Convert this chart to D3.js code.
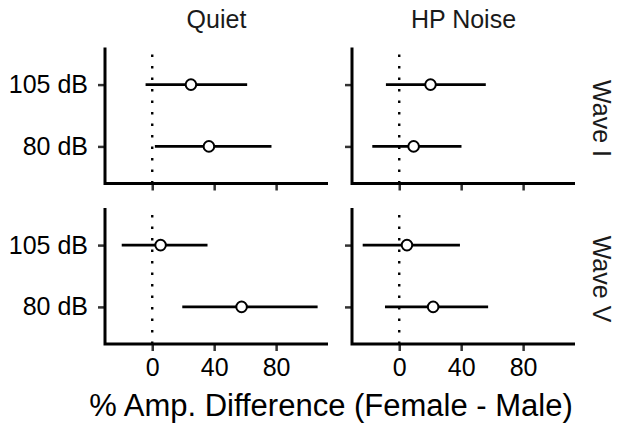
<!DOCTYPE html>
<html>
<head>
<meta charset="utf-8">
<script src="https://cdn.jsdelivr.net/npm/d3@7"></script>
<style>
  body { margin: 0; background: #fff; }
  text { font-family: "Liberation Sans", Arial, sans-serif; }
</style>
</head>
<body>
<div id="chart"></div>
<script>
// facets
const waves = ["Wave I", "Wave V"];
const conditions = ["Quiet", "HP Noise"];
const levels = ["105 dB", "80 dB"];
const xTicks = [0, 40, 80];

// one row per estimate: wave, condition, level
const rowWave  = ["Wave I", "Wave I", "Wave I", "Wave I", "Wave V", "Wave V", "Wave V", "Wave V"];
const rowCond  = ["Quiet", "Quiet", "HP Noise", "HP Noise", "Quiet", "Quiet", "HP Noise", "HP Noise"];
const rowLevel = ["105 dB", "80 dB", "105 dB", "80 dB", "105 dB", "80 dB", "105 dB", "80 dB"];
const estimate = [25.0, 36.6, 20.2, 9.3, 5.4, 57.7, 5.0, 21.9];
const lower    = [-4.3, 1.7, -8.6, -17.4, -19.7, 19.4, -23.6, -9.2];
const upper    = [61.3, 77.0, 55.9, 40.2, 35.7, 106.8, 39.2, 57.4];

const W = 618, H = 427;
const panelX = [105, 352], panelY = [47.5, 208];
const pw = 223, ph = 136;

const svg = d3.select('#chart').append('svg')
    .attr('width', W)
    .attr('height', H);

const x = d3.scaleLinear().domain([-30.5, 113.5]).range([0, pw]);
const y = d3.scalePoint().domain(levels).range([0, ph]).padding(0.6);

const rows = estimate.map((e, i) => ({
    wave: rowWave[i], cond: rowCond[i], level: rowLevel[i],
    est: e, lo: lower[i], hi: upper[i]
}));

waves.forEach((wave, wi) => {
    conditions.forEach((cond, ci) => {
        const g = svg.append('g')
            .attr('transform', 'translate(' + panelX[ci] + ',' + panelY[wi] + ')');

        // zero reference, drawn from the bottom up like ggplot
        g.append('line')
            .attr('x1', x(0)).attr('x2', x(0))
            .attr('y1', ph).attr('y2', 0)
            .attr('stroke', '#000')
            .attr('stroke-width', 2.4)
            .attr('stroke-dasharray', '2.4,9.1');

        const xa = d3.axisBottom(x).tickValues(xTicks).tickSize(7).tickPadding(7).tickSizeOuter(0);
        if (wi === 0) xa.tickFormat('');
        const ya = d3.axisLeft(y).tickSize(7).tickPadding(10).tickSizeOuter(0);
        if (ci === 1) ya.tickFormat('');

        const gx = g.append('g').attr('transform', 'translate(0,' + ph + ')').call(xa);
        const gy = g.append('g').call(ya);
        [gx, gy].forEach(a => {
            a.select('.domain').remove();
            a.selectAll('.tick line').attr('stroke', '#333').attr('stroke-width', 2.5);
            a.selectAll('.tick text')
                .attr('fill', '#000')
                .style('font-size', '25px')
                .style('font-family', '"Liberation Sans", Arial, sans-serif');
        });

        // axis lines
        g.append('path')
            .attr('d', 'M0,0V' + ph + 'H' + pw)
            .attr('fill', 'none')
            .attr('stroke', '#000')
            .attr('stroke-width', 3);

        const data = rows.filter(r => r.wave === wave && r.cond === cond);

        g.selectAll('.bar').data(data).enter().append('line')
            .attr('class', 'bar')
            .attr('x1', d => x(d.lo))
            .attr('x2', d => x(d.hi))
            .attr('y1', d => y(d.level))
            .attr('y2', d => y(d.level))
            .attr('stroke', '#000')
            .attr('stroke-width', 2.6);

        g.selectAll('.pt').data(data).enter().append('circle')
            .attr('class', 'pt')
            .attr('cx', d => x(d.est))
            .attr('cy', d => y(d.level))
            .attr('r', 5.3)
            .attr('fill', '#fff')
            .attr('stroke', '#000')
            .attr('stroke-width', 2);

        // strips
        if (wi === 0) {
            svg.append('text')
                .attr('x', panelX[ci] + pw / 2)
                .attr('y', 28)
                .attr('text-anchor', 'middle')
                .attr('fill', '#1a1a1a')
                .style('font-size', '25px')
                .text(cond);
        }
        if (ci === 1) {
            svg.append('text')
                .attr('transform', 'translate(593,' + (panelY[wi] + ph / 2 + 3) + ') rotate(90)')
                .attr('text-anchor', 'middle')
                .attr('fill', '#1a1a1a')
                .style('font-size', '25px')
                .text(wave);
        }
    });
});

svg.append('text')
    .attr('x', 331)
    .attr('y', 416)
    .attr('text-anchor', 'middle')
    .attr('fill', '#000')
    .style('font-size', '31px')
    .text('% Amp. Difference (Female - Male)');
</script>
</body>
</html>
